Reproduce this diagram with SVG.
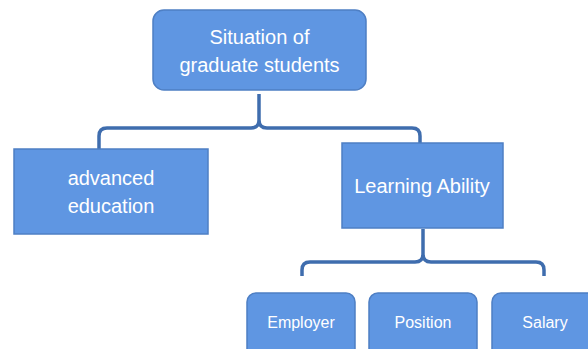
<svg xmlns="http://www.w3.org/2000/svg" width="588" height="349" viewBox="0 0 588 349">
<style>
.box{fill:#5F96E2;stroke:#4E7FC4;stroke-width:1.5}
.t{fill:#FFFFFF;font-family:"Liberation Sans",Arial,sans-serif;text-anchor:middle}
.c{fill:none;stroke:#3F6DAE;stroke-width:3.5;stroke-linecap:butt;stroke-linejoin:round}
</style>
<rect width="588" height="349" fill="#FFFFFF"/>
<g id="connectors">
<path class="c" d="M99,149 V136 Q99,128 107,128 H251 Q259,128 259,120 V94 M259,120 Q259,128 267,128 H412 Q420,128 420,136 V148"/>
<path class="c" d="M302,276 V270 Q302,262 310,262 H415 Q423,262 423,254 V229 M423,254 Q423,262 431,262 H536 Q544,262 544,270 V276"/>
</g>
<g id="root">
<rect class="box" x="153" y="10" width="213" height="80" rx="11"/>
<text class="t" x="259.5" y="44" font-size="20">Situation of</text>
<text class="t" x="259.5" y="71.5" font-size="20">graduate students</text>
</g>
<g id="advanced">
<rect class="box" x="14" y="149" width="194" height="85"/>
<text class="t" x="111" y="185" font-size="20">advanced</text>
<text class="t" x="111" y="213" font-size="20">education</text>
</g>
<g id="learning">
<rect class="box" x="342" y="143" width="161" height="85"/>
<text class="t" x="422" y="193" font-size="20">Learning Ability</text>
</g>
<g id="employer">
<rect class="box" x="247" y="293" width="108" height="70" rx="9"/>
<text class="t" x="301" y="328" font-size="16">Employer</text>
</g>
<g id="position">
<rect class="box" x="369" y="293" width="108" height="70" rx="9"/>
<text class="t" x="423" y="328" font-size="16">Position</text>
</g>
<g id="salary">
<rect class="box" x="492" y="293" width="108" height="70" rx="9"/>
<text class="t" x="545" y="328" font-size="16">Salary</text>
</g>
</svg>
